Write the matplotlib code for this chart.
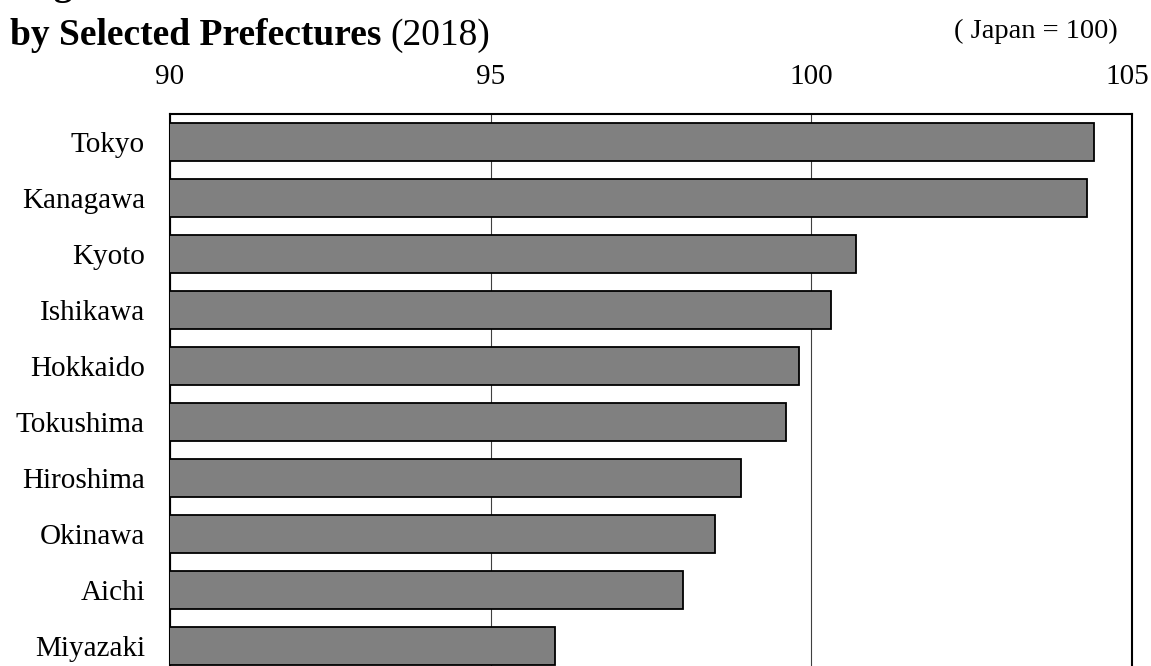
import matplotlib
matplotlib.use("Agg")
import matplotlib.pyplot as plt
import matplotlib.transforms as mtransforms

prefectures = ["Tokyo", "Kanagawa", "Kyoto", "Ishikawa", "Hokkaido",
               "Tokushima", "Hiroshima", "Okinawa", "Aichi", "Miyazaki"]
index_values = [104.4, 104.3, 100.7, 100.3, 99.8, 99.6, 98.9, 98.5, 98.0, 96.0]
x_ticks = [90, 95, 100, 105]

plt.rcParams['font.family'] = ['Liberation Serif', 'DejaVu Serif']

W, H = 1151, 666
fig = plt.figure(figsize=(W / 100, H / 100), dpi=100)

# axes runs past the bottom edge (the chart is cropped there)
ax_top, ax_bot = 114, 674
ax = fig.add_axes([170 / W, 1 - ax_bot / H, 962 / W, (ax_bot - ax_top) / H])

pos = list(range(len(prefectures)))
ax.barh(pos, index_values, left=0, height=0.68, color="#808080",
        edgecolor="black", linewidth=1.3, zorder=3)

ax.set_xlim(90, 105)
ax.set_ylim(len(prefectures) - 0.5, -0.5)
ax.set_xticks(x_ticks)
ax.set_xticklabels([str(t) for t in x_ticks])
ax.set_yticks(pos)
ax.set_yticklabels(prefectures)
ax.xaxis.tick_top()
ax.tick_params(axis="x", length=0, pad=17, labelsize=21)
ax.tick_params(axis="y", length=0, pad=18, labelsize=21)
ax.grid(axis="x", color="#404040", linewidth=0.8, zorder=0)
for s in ax.spines.values():
    s.set_linewidth(1.5)

# keep the last tick label inside the picture
last = ax.get_xticklabels()[-1]
last.set_transform(last.get_transform() +
                   mtransforms.ScaledTranslation(-5 / 100, 0, fig.dpi_scale_trans))

# title (first line is cut off by the top of the picture)
fig.text(10 / W, 1 + 5 / H, "Regional Difference Index of Consumer Prices",
         fontsize=27, fontweight="bold", va="baseline", ha="left")
t1 = fig.text(10 / W, 1 - 45 / H, "by Selected Prefectures ",
              fontsize=27, fontweight="bold", va="baseline", ha="left")
fig.canvas.draw()
bb = t1.get_window_extent()
fig.text(bb.x1 / W, 1 - 45 / H, "(2018)", fontsize=27, va="baseline", ha="left")

fig.text(1118 / W, 1 - 38 / H, "( Japan = 100)", fontsize=20.5,
         va="baseline", ha="right")

fig.savefig("out.png", dpi=100)
